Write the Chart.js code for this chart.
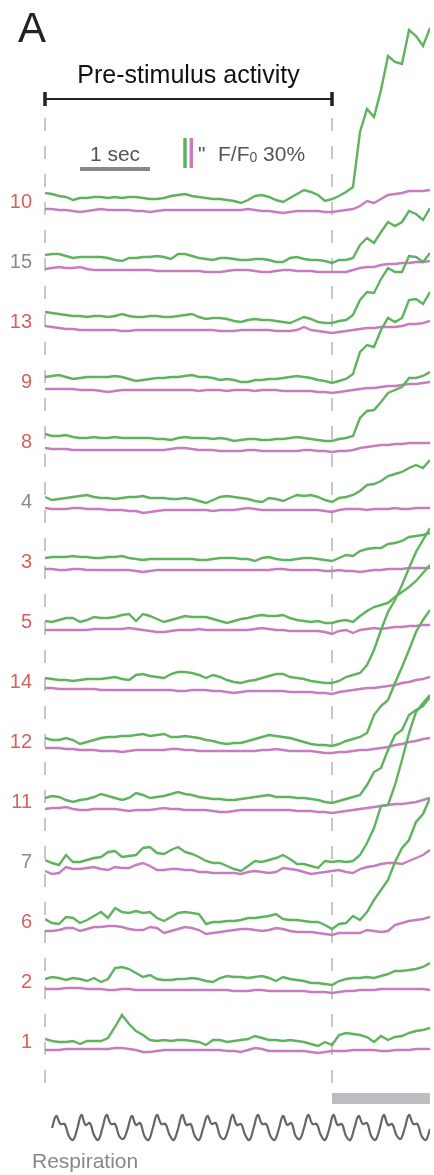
<!DOCTYPE html>
<html>
<head>
<meta charset="utf-8">
<script src="https://cdn.jsdelivr.net/npm/chart.js@4.4.1/dist/chart.umd.min.js"></script>
<style>
  body { margin: 0; background: #fff; }
  #wrap { width: 434px; height: 1175px; }
</style>
</head>
<body>
<div id="wrap"><canvas id="traces" width="434" height="1175"></canvas></div>
<script>
// time axis, seconds (0.1 s sampling); stimulus at 4.1 s
var time = Array.from({ length: 56 }, function (_, i) { return +(i * 0.1).toFixed(1); });
var stimOnset = 4.1;

var cells = ["10", "15", "13", "9", "8", "4", "3", "5", "14", "12", "11", "7", "6", "2", "1"];
var cellColors = ["#d6625d", "#8a8a8a", "#d6625d", "#d6625d", "#d6625d", "#8a8a8a", "#d6625d", "#d6625d",
                  "#d6625d", "#d6625d", "#d6625d", "#8a8a8a", "#d6625d", "#d6625d", "#d6625d"];

// dF/F (%) per cell, green and magenta channels
var g10 = [4,3,1,0,-3,-1,-1,0,0,-1, 0,-1,0,0,-1,-2,-2,-1,1,2, 3,1,0,-1,-2,-2,-3,-4,-6,-3, 1,2,0,-3,-5,-1,3,7,5,2, -4,-2,1,5,10,65,88,80,107,141, 135,133,167,161,151,169];
var m10 = [0,0,-1,-1,-2,-3,-2,-1,0,-1, -1,-1,-1,-2,-2,-3,-2,-1,-1,-1, -1,-1,-1,-1,-1,-1,-1,-1,-1,0, -1,-2,-2,-3,-4,-3,-2,-2,-2,-2, -3,-3,-2,-1,0,3,8,6,10,14, 15,16,18,18,18,19];
var g15 = [2,3,3,1,-1,0,0,0,0,-1, -3,-4,-1,-1,0,0,1,0,-2,3, 3,1,-1,-2,-3,-1,-1,-2,-3,-3, -2,-2,-3,-5,-5,-1,0,-2,-3,-3, -4,-6,-3,-3,-1,12,19,14,25,35, 31,35,46,43,37,49];
var m15 = [0,1,2,1,1,2,0,-1,-1,-1, -1,-1,-1,-1,-1,-1,-2,-2,-2,-2, -2,-2,-2,-3,-3,-3,-2,-1,-1,-1, -2,-3,-3,-2,-1,-1,-2,-2,-2,-3, -3,-3,-3,-3,-1,1,2,2,4,5, 5,6,6,7,7,8];
var g13 = [5,4,3,2,1,1,0,1,1,0, 1,3,1,0,0,1,1,0,0,1, 2,3,0,-2,-1,-1,-2,-4,-5,-3, -2,-3,-3,-4,-5,-6,-3,0,-2,-5, -6,-6,-4,-3,2,17,25,24,38,49, 45,45,61,60,55,64];
var m13 = [3,2,1,0,0,-1,-1,-1,-1,-1, -1,-2,-2,-1,-1,-1,-1,-1,-1,-1, -1,-1,-1,-1,-1,-2,-2,-2,-1,-1, -1,-1,-1,-2,-2,-2,-1,2,-1,-2, -3,-4,-3,-2,-1,0,1,1,2,2, 2,3,5,5,6,8];
var g9 = [0,1,2,0,-2,-1,0,0,0,0, 1,0,-2,-4,-3,-2,-1,-1,0,0, 1,2,0,0,-1,-3,-2,-3,-5,-5, -3,-3,-2,-2,-1,0,1,0,-1,-3, -4,-6,-4,-2,3,25,32,30,47,59, 55,59,77,78,73,85];
var m9 = [0,0,0,0,0,-1,-1,-1,-2,-3, -2,-1,-1,-1,-1,-1,-1,-1,-1,-1, -1,-1,-2,-1,-1,-1,-2,-1,-1,-1, -2,-1,-1,-1,-2,-2,-2,-2,-2,-3, -3,-4,-3,-2,-1,0,1,1,2,3, 3,4,5,5,6,7];
var g8 = [3,1,1,2,0,-1,-1,0,-1,-1, 0,-1,-1,-1,-1,-1,-2,-2,-3,-1, 0,-1,-1,-1,-2,-1,-2,-4,-3,-2, -2,-3,-3,-2,-2,-1,0,-1,-2,-3, -4,-4,-2,-1,1,19,26,27,35,44, 47,50,59,59,61,65];
var m8 = [1,0,0,0,-1,-1,-1,-1,-1,-1, -1,-1,-1,-1,-1,-1,-1,-1,0,1, 1,0,-1,-1,-1,-2,-2,-2,-2,-1, -1,-2,-2,-2,-2,-2,-2,-1,-1,-2, -2,-3,-2,-2,-1,1,2,3,4,4, 5,5,6,6,6,6];
var g4 = [0,-3,-2,-1,0,1,2,0,-1,-1, -2,-1,0,0,1,-1,-1,-1,-2,-2, -1,-2,-4,-6,-3,0,1,0,-1,-2, -4,-5,-1,-2,-4,-1,2,1,2,0, -3,-5,-1,0,2,6,12,13,16,21, 23,25,29,32,29,37];
var m4 = [1,0,0,0,1,1,0,0,0,-1, -1,-1,-2,-2,-4,-3,-2,-1,-1,-1, -1,-1,-1,-1,-2,-1,-1,-1,0,1, 0,-1,-1,-1,-1,-1,-1,-1,-1,-1, -2,-3,-1,0,0,0,-1,0,0,0, 1,0,0,1,1,1];
var g3 = [-1,0,0,0,1,0,0,-1,-1,0, 0,1,-1,-2,-3,-2,-2,-2,-2,-2, -2,-2,-3,-3,-2,-1,-1,-1,-2,-2, -4,-1,0,-2,-3,-3,-2,-1,-1,-2, -3,-4,-1,2,1,6,8,9,9,13, 14,16,20,21,22,24];
var m3 = [0,0,-1,-1,0,0,-1,-1,-1,-1, -1,-1,-1,-2,-3,-2,-1,-1,-1,-1, -1,-1,-1,-1,-1,-1,-1,-1,-1,-1, -1,-1,-1,0,0,-1,-1,-1,-1,-1, -2,-2,-1,-2,-2,-3,-2,-1,-1,0, 0,0,1,1,1,1];
var g5 = [-4,-5,-3,-1,-1,-5,-3,0,-1,-1, 0,2,3,-4,3,1,-2,-5,-3,-1, 1,0,0,0,-2,-4,-6,-4,-2,-1, 1,2,1,1,2,-1,-3,-4,-5,-4, -6,-6,-4,-3,-5,1,6,10,12,14, 20,25,30,36,44,52];
var m5 = [-1,-1,-1,-1,-1,-1,-1,0,0,0, 0,0,1,0,-1,-2,-3,-3,-2,-1, -1,-1,0,-1,-1,-1,-1,-1,-1,-1, 0,1,0,-1,-1,-2,-2,-2,-2,-2, -3,-5,-2,-1,-4,-1,0,1,0,1, 2,2,3,3,4,4];
var g14 = [-1,-2,-3,-3,-4,-3,-2,-2,-2,-1, 0,-2,-3,2,3,1,0,-1,3,5, 5,4,2,-1,2,0,-3,-5,-6,-4, -3,-1,1,3,3,0,-1,-2,-4,-5, -6,-6,-4,0,2,4,12,27,47,65, 77,92,109,125,137,149];
var m14 = [1,1,0,0,0,0,0,0,-1,-1, -1,-1,-1,-1,-1,-1,-1,-1,-1,-2, -2,-1,-1,-1,-2,-2,-3,-4,-3,-2, -2,-2,-2,-2,-2,-3,-3,-3,-3,-4, -4,-5,-3,-2,-1,0,1,1,2,3, 4,6,7,9,10,12];
var g12 = [-1,-3,-3,-1,-3,-7,-5,-3,-1,0, 0,1,1,2,3,1,2,3,0,0, 1,0,-1,-3,-4,-6,-7,-6,-6,-4, -2,0,2,1,0,-1,-3,-5,-7,-8, -8,-9,-7,-4,-2,0,4,22,31,37, 54,70,87,105,117,127];
var m12 = [1,1,1,0,0,-1,-1,-1,-2,-2, -2,-3,-2,-1,-1,-1,-1,-1,0,0, -1,-1,-2,-2,-2,-2,-2,-2,-2,-2, -2,-1,-1,0,-1,-2,-2,-2,-2,-3, -4,-4,-3,-3,-2,-1,-1,0,1,2, 4,5,7,8,10,11];
var g11 = [-1,1,0,-3,-5,-3,-2,0,3,1, -1,-3,-1,4,2,-1,0,1,3,5, 3,2,0,-1,-2,-2,-3,-3,-2,-1, 0,1,2,0,0,0,-1,-1,-2,-3, -5,-6,-4,-2,0,2,12,25,29,47, 62,67,82,87,91,100];
var m11 = [0,1,1,2,0,-1,-1,0,0,0, 0,-1,-2,-1,-1,-1,0,1,0,0, -1,-1,-1,-1,-2,-3,-3,-2,-1,-1, -1,-1,-1,-1,-1,-1,-2,-2,-2,-3, -3,-4,-3,-2,-1,0,1,2,3,4, 5,5,6,7,9,11];
var g7 = [-3,-6,-8,2,-5,-5,-3,-1,0,5, 6,0,1,2,9,10,4,3,7,10, 5,3,0,-4,-6,-6,-9,-12,-14,-9, -4,-5,-3,-1,2,-2,-7,-7,-9,-11, -4,-5,-4,-5,-4,2,14,29,51,52, 72,97,124,145,154,162];
var m7 = [-2,-5,-4,2,0,0,1,2,0,-1, 2,1,1,4,6,3,-1,-1,0,0, -1,-1,-3,-3,-4,-4,-4,-4,-5,-3, -2,-3,-4,-3,1,0,-1,-3,-5,-4, -3,-2,-1,-3,-4,0,2,3,5,6, 6,5,8,11,14,19];
var g6 = [-2,-6,-7,0,-1,-6,-3,1,5,-1, 9,5,4,6,4,5,-1,-4,0,4, 5,4,3,-7,-5,-5,-4,-4,-3,-1, -1,0,1,3,-2,-3,-3,-4,-5,-5, -8,-12,-7,-6,1,-3,5,17,27,37, 55,69,77,95,103,119];
var m6 = [-2,-2,-1,1,1,-2,0,2,2,3, 3,2,0,-1,-1,2,1,-4,-2,0, 2,1,-1,-5,-4,-3,-2,-1,0,0, -1,-2,-1,1,0,-2,-3,-3,-3,-4, -5,-6,-4,-4,-4,-4,-1,-2,-3,-2, 4,6,8,9,10,12];
var g2 = [-2,0,-1,-3,-1,-2,-4,-1,-5,-2, 9,10,8,4,0,2,-2,-3,-3,-2, -2,-1,-2,-4,-5,-1,1,0,0,-1, 0,1,-1,-4,0,-2,-3,-4,-6,-6, -7,-8,-4,-2,-1,-1,0,-1,1,3, 6,6,7,8,10,14];
var m2 = [0,0,0,1,1,1,0,0,0,-1, -1,0,0,-1,-1,-1,-1,-1,-1,-1, -1,-1,-1,-1,-1,-1,-1,-2,-2,-2, -1,-1,-2,-2,-2,-2,-2,-2,-3,-3, -3,-4,-3,-2,-2,-1,-1,-1,0,0, 0,0,0,0,0,-1];
var g1 = [-2,-4,-5,-5,-4,-7,-4,-4,-4,-1, 10,22,13,6,2,-3,-4,-3,-4,-3, -3,-4,-5,-8,-3,-3,-5,-4,-3,-2, 1,-1,-3,-3,-4,-3,-4,-5,-7,-9, -5,-8,2,4,3,2,0,-5,1,-3, 0,1,4,6,7,9];
var m1 = [-1,-1,-1,0,0,0,0,0,0,0, 1,1,0,-1,-3,-3,-2,-1,-1,-1, -1,-1,-1,-1,-1,-1,-2,-2,-3,-1, 1,0,-2,-2,-2,-2,-2,-2,-3,-4, -3,-2,-2,-2,-1,-1,-1,-1,-2,-2, -1,-1,-1,0,0,0];

var greens = [g10, g15, g13, g9, g8, g4, g3, g5, g14, g12, g11, g7, g6, g2, g1];
var magentas = [m10, m15, m13, m9, m8, m4, m3, m5, m14, m12, m11, m7, m6, m2, m1];

// respiration trace (arbitrary units), sampled every 0.06 s from 0.1 s
var respiration = [0,12,4,4,-8,-12, -1,13,3,5,-7,-12, 0,13,4,4,-8,-11, -1,12,3,5,-8,-12, 0,13,4,4,-7,-12,
  -1,13,3,4,-8,-12, 0,12,4,5,-8,-11, -1,13,3,4,-7,-12, 0,13,4,4,-8,-12, -1,12,3,5,-8,-11,
  0,13,4,4,-7,-12, -1,13,3,4,-8,-12, 0,12,4,5,-8,-12, -1,13,3,4,-7,-11, 0,13,4,4,-8,-12, -1];
var respTime = respiration.map(function (_, i) { return 0.1 + i * 0.06; });

var rowStep = 60, magentaGap = 12, respBase = -931;
var green = "#5fb35f", magenta = "#c87cc0";

var datasets = [];
greens.forEach(function (arr, r) {
  datasets.push({
    data: time.map(function (t, i) { return { x: t, y: -rowStep * r + arr[i] }; }),
    borderColor: green, borderWidth: 2.4, order: 0,
  });
});
magentas.forEach(function (arr, r) {
  datasets.push({
    data: time.map(function (t, i) { return { x: t, y: -rowStep * r - magentaGap + arr[i] }; }),
    borderColor: magenta, borderWidth: 2.4, order: 1,
  });
});
datasets.push({
  data: respiration.map(function (v, i) { return { x: respTime[i], y: respBase + v }; }),
  borderColor: "#666666", borderWidth: 2.2, tension: 0.4, order: 1,
});
// dashed markers at 0 s and stimulus onset
[0, stimOnset].forEach(function (t) {
  datasets.push({
    data: [{ x: t, y: 79 }, { x: t, y: -893 }],
    borderColor: "#aaaaaa", borderWidth: 1.3, borderDash: [13, 15], order: 2, clip: false,
  });
});
// pre-stimulus bracket with end caps
datasets.push({
  data: [{ x: 0, y: 98 }, { x: stimOnset, y: 98 }],
  borderColor: "#222222", borderWidth: 2, order: 2, clip: false,
});
[0, stimOnset].forEach(function (t) {
  datasets.push({
    data: [{ x: t, y: 105 }, { x: t, y: 91 }],
    borderColor: "#222222", borderWidth: 3.5, borderCapStyle: "butt", order: 2, clip: false,
  });
});
// stimulus bar
datasets.push({
  data: [{ x: stimOnset, y: -901.5 }, { x: 5.5, y: -901.5 }],
  borderColor: "#bdbec1", borderWidth: 11, borderCapStyle: "butt", order: 2, clip: false,
});
// scale bars: 1 sec and 30 %
datasets.push({
  data: [{ x: 0.5, y: 28 }, { x: 1.5, y: 28 }],
  borderColor: "#888888", borderWidth: 4, borderCapStyle: "butt", order: 2,
});
datasets.push({
  data: [{ x: 2.0, y: 59 }, { x: 2.0, y: 29 }],
  borderColor: green, borderWidth: 3.5, borderCapStyle: "butt", order: 2,
});
datasets.push({
  data: [{ x: 2.09, y: 59 }, { x: 2.09, y: 29 }],
  borderColor: magenta, borderWidth: 3.5, borderCapStyle: "butt", order: 2,
});

var FONT = '"Liberation Sans", Arial, sans-serif';

var textPlugin = {
  id: "texts",
  afterDraw: function (chart) {
    var ctx = chart.ctx, xs = chart.scales.x, ys = chart.scales.y;
    ctx.save();
    ctx.textBaseline = "alphabetic";

    ctx.fillStyle = "#222";
    ctx.font = "42px " + FONT;
    ctx.textAlign = "left";
    ctx.fillText("A", 18, 42);

    ctx.fillStyle = "#111";
    ctx.font = "25px " + FONT;
    ctx.textAlign = "center";
    ctx.fillText("Pre-stimulus activity", xs.getPixelForValue(stimOnset / 2), 83);

    ctx.fillStyle = "#555";
    ctx.font = "21px " + FONT;
    ctx.fillText("1 sec", xs.getPixelForValue(1.0), 161);

    ctx.textAlign = "left";
    ctx.fillText('"', 198, 161);
    var x0 = 218;
    ctx.fillText("F/F", x0, 161);
    x0 += ctx.measureText("F/F").width;
    ctx.font = "14px " + FONT;
    ctx.fillText("0", x0, 162);
    x0 += ctx.measureText("0").width;
    ctx.font = "21px " + FONT;
    ctx.fillText(" 30%", x0, 161);

    ctx.textAlign = "right";
    ctx.font = "20px " + FONT;
    cells.forEach(function (c, r) {
      ctx.fillStyle = cellColors[r];
      ctx.fillText(c, 32, ys.getPixelForValue(-rowStep * r) + 11);
    });

    ctx.textAlign = "left";
    ctx.fillStyle = "#888";
    ctx.font = "21px " + FONT;
    ctx.fillText("Respiration", 32, 1168);
    ctx.restore();
  },
};

var chart = new Chart(document.getElementById("traces"), {
  type: "line",
  data: { datasets: datasets },
  options: {
    responsive: false,
    animation: false,
    layout: { autoPadding: false, padding: { left: 45, right: 4, top: 0, bottom: 0 } },
    elements: { point: { radius: 0 }, line: { tension: 0 } },
    scales: {
      x: { type: "linear", min: 0, max: 5.5, display: false },
      y: { type: "linear", min: -978, max: 197, display: false },
    },
    plugins: { legend: { display: false }, tooltip: { enabled: false } },
  },
  plugins: [textPlugin],
});
</script>
</body>
</html>
